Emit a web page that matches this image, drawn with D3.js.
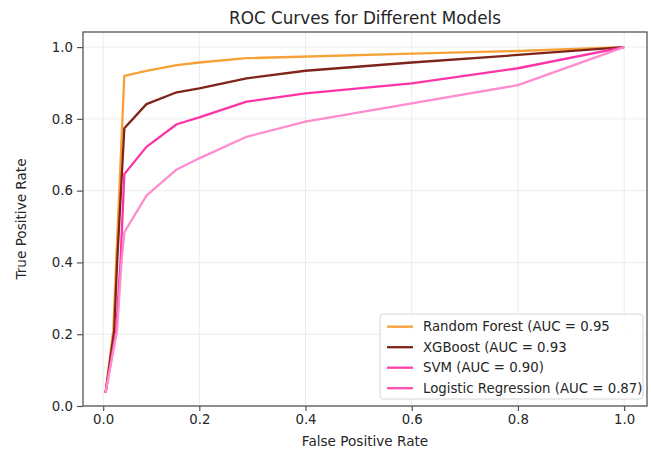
<!DOCTYPE html>
<html>
<head>
<meta charset="utf-8">
<script src="https://cdn.jsdelivr.net/npm/d3@7"></script>
<style>
    body { margin: 0; background: #fff; }
    svg text { font-family: "DejaVu Sans", sans-serif; fill: #262626; }
</style>
</head>
<body>
<div id="roc_chart"></div>
<script>
// values
const models = ["Random Forest", "XGBoost", "SVM", "Logistic Regression"]
const aucLabels = ["(AUC = 0.95", "(AUC = 0.93", "(AUC = 0.90)", "(AUC = 0.87)"]

const fprRF = [0.005, 0.021, 0.027, 0.044, 0.09, 0.153, 0.2, 0.289, 0.6, 0.8, 1.0]
const tprRF = [0.037, 0.21, 0.4, 0.92, 0.934, 0.95, 0.957, 0.969, 0.982, 0.989, 1.0]

const fprXGB = [0.005, 0.023, 0.029, 0.044, 0.09, 0.153, 0.2, 0.289, 0.4, 0.6, 0.8, 1.0]
const tprXGB = [0.037, 0.21, 0.4, 0.774, 0.841, 0.874, 0.885, 0.913, 0.934, 0.957, 0.978, 1.0]

const fprSVM = [0.005, 0.027, 0.036, 0.044, 0.09, 0.153, 0.2, 0.289, 0.4, 0.6, 0.8, 1.0]
const tprSVM = [0.037, 0.21, 0.4, 0.646, 0.722, 0.785, 0.804, 0.848, 0.871, 0.899, 0.941, 1.0]

const fprLR = [0.005, 0.029, 0.038, 0.044, 0.09, 0.153, 0.2, 0.289, 0.4, 0.6, 0.8, 1.0]
const tprLR = [0.037, 0.21, 0.4, 0.484, 0.586, 0.659, 0.69, 0.75, 0.792, 0.843, 0.894, 1.0]

const xTicks = [0, 0.2, 0.4, 0.6, 0.8, 1.0]
const yTicks = [0, 0.2, 0.4, 0.6, 0.8, 1.0]

const lineColours = ["#f7a136", "#7f2419", "#ff33a8", "#ff8ccd"]
const legendColours = ["#f7a136", "#7f2419", "#ff3fae", "#ff4fb4"]

const series = [
    { fpr: fprRF, tpr: tprRF },
    { fpr: fprXGB, tpr: tprXGB },
    { fpr: fprSVM, tpr: tprSVM },
    { fpr: fprLR, tpr: tprLR },
]

const margin = { top: 32, right: 4, bottom: 44, left: 83 }
const width = 651 - margin.left - margin.right
const height = 450 - margin.top - margin.bottom

const svg = d3
    .select("#roc_chart")
    .append("svg")
    .attr("width", 651)
    .attr("height", 450)

const g = svg
    .append("g")
    .attr("transform", "translate(" + margin.left + "," + margin.top + ")")

// the source image is slightly squeezed between 0.0 and 0.2
const x = d3
    .scaleLinear()
    .domain([-0.042, 0.2, 1.043])
    .range([0, 116.3, width])

const y = d3.scaleLinear().domain([0, 1.042]).range([height, 0])

// grid
g.append("g")
    .selectAll("line")
    .data(xTicks)
    .enter()
    .append("line")
    .attr("x1", (d) => x(d))
    .attr("x2", (d) => x(d))
    .attr("y1", 0)
    .attr("y2", height)
    .attr("stroke", "#ececec")
    .attr("stroke-width", 1)

g.append("g")
    .selectAll("line")
    .data(yTicks)
    .enter()
    .append("line")
    .attr("x1", 0)
    .attr("x2", width)
    .attr("y1", (d) => y(d))
    .attr("y2", (d) => y(d))
    .attr("stroke", "#ececec")
    .attr("stroke-width", 1)

// curves
const line = d3
    .line()
    .x((d) => x(d[0]))
    .y((d) => y(d[1]))

g.append("g")
    .selectAll("path")
    .data(series)
    .enter()
    .append("path")
    .attr("d", (s) => line(d3.zip(s.fpr, s.tpr)))
    .attr("fill", "none")
    .attr("stroke", (s, i) => lineColours[i])
    .attr("stroke-width", 2.3)
    .attr("stroke-linejoin", "round")

// axes
const xAxis = g
    .append("g")
    .attr("transform", "translate(0," + height + ")")
    .call(
        d3
            .axisBottom(x)
            .tickValues(xTicks)
            .tickFormat(d3.format(".1f"))
            .tickSize(5)
            .tickPadding(4),
    )

const yAxis = g.append("g").call(
    d3
        .axisLeft(y)
        .tickValues(yTicks)
        .tickFormat(d3.format(".1f"))
        .tickSize(6)
        .tickPadding(4),
)

for (const ax of [xAxis, yAxis]) {
    ax.select(".domain").remove()
    ax.selectAll("line").attr("stroke", "#555").attr("stroke-width", 1.2)
    ax.selectAll("text")
        .style("font-size", "13.3px")
        .style("font-family", "DejaVu Sans, sans-serif")
        .attr("fill", "#262626")
}

// frame
g.append("rect")
    .attr("x", 0)
    .attr("y", 0)
    .attr("width", width)
    .attr("height", height)
    .attr("fill", "none")
    .attr("stroke", "#555")
    .attr("stroke-width", 1.3)

// labels
svg.append("text")
    .attr("x", margin.left + width / 2)
    .attr("y", 24)
    .attr("text-anchor", "middle")
    .style("font-size", "16.8px")
    .text("ROC Curves for Different Models")

svg.append("text")
    .attr("x", margin.left + width / 2)
    .attr("y", 446)
    .attr("text-anchor", "middle")
    .style("font-size", "13.6px")
    .text("False Positive Rate")

svg.append("text")
    .attr("transform", "translate(26," + (margin.top + height / 2) + ") rotate(-90)")
    .attr("text-anchor", "middle")
    .style("font-size", "13.6px")
    .text("True Positive Rate")

// legend
const legend = g.append("g").attr("transform", "translate(297,282)")

legend
    .append("rect")
    .attr("width", 263)
    .attr("height", 85)
    .attr("rx", 3)
    .attr("fill", "#fff")
    .attr("fill-opacity", 0.85)
    .attr("stroke", "#d6d6d6")

const rows = legend
    .selectAll("g.row")
    .data(models)
    .enter()
    .append("g")
    .attr("class", "row")
    .attr("transform", (d, i) => "translate(0," + (12.7 + i * 20.5) + ")")

rows.append("line")
    .attr("x1", 7)
    .attr("x2", 33)
    .attr("stroke", (d, i) => legendColours[i])
    .attr("stroke-width", 2.3)

rows.append("text")
    .attr("x", 43)
    .attr("dy", "0.35em")
    .style("font-size", "13.3px")
    .text((d, i) => d + " " + aucLabels[i])
</script>
</body>
</html>
